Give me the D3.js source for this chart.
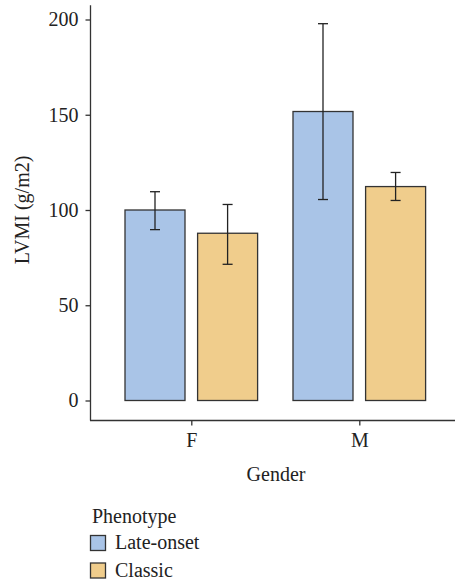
<!DOCTYPE html>
<html>
<head>
<meta charset="utf-8">
<script src="https://cdn.jsdelivr.net/npm/d3@7"></script>
<style>
  body { margin: 0; background: #fff; }
  svg text { font-family: "Liberation Serif", "DejaVu Serif", serif; fill: #222; }
</style>
</head>
<body>
<div id="chart"></div>
<script>
var genders = ["F", "M"];
var phenotypes = ["Late-onset", "Classic"];
var colors = ["#a9c4e7", "#f0cd8c"];
// mean, lower, upper per gender, per phenotype
var lateOnset = [100, 151.7];
var lateOnsetLo = [89.7, 105.5];
var lateOnsetHi = [109.6, 197.8];
var classic = [87.8, 112.3];
var classicLo = [71.5, 105];
var classicHi = [102.9, 119.7];
var yTicks = [0, 50, 100, 150, 200];

var w = 455;
var h = 586;
var fs = "20px";
var ff = "Liberation Serif";

var rows = [];
genders.forEach(function(g, i) {
    rows.push({gender: g, pos: i + 1, k: 0, mean: lateOnset[i], lo: lateOnsetLo[i], hi: lateOnsetHi[i]});
    rows.push({gender: g, pos: i + 1, k: 1, mean: classic[i], lo: classicLo[i], hi: classicHi[i]});
});

var xscale = d3.scaleLinear().domain([0.4, 2.6]).range([90.5, 460.1]);
var yscale = d3.scaleLinear().domain([0, 200]).range([400.5, 19.5]);
var yBottom = -10.5, yTop = 207.5;

var barW = 60 / 168;
var off = 36.3 / 168;

var svg = d3.select("#chart").append("svg")
    .attr("width", w)
    .attr("height", h);

// bars
svg.append("g").selectAll("rect")
    .data(rows)
    .enter()
    .append("rect")
    .attr("x", function(d) { return xscale(d.pos + (d.k ? off : -off) - barW / 2); })
    .attr("y", function(d) { return yscale(d.mean); })
    .attr("width", function(d) { return xscale(barW) - xscale(0); })
    .attr("height", function(d) { return yscale(0) - yscale(d.mean); })
    .attr("fill", function(d) { return colors[d.k]; })
    .attr("stroke", "#333")
    .attr("stroke-width", 1.3);

// error bars
var eb = svg.append("g").selectAll("g")
    .data(rows)
    .enter()
    .append("g")
    .attr("stroke", "#222")
    .attr("stroke-width", 1.3);

eb.append("line")
    .attr("x1", function(d) { return xscale(d.pos + (d.k ? off : -off)); })
    .attr("x2", function(d) { return xscale(d.pos + (d.k ? off : -off)); })
    .attr("y1", function(d) { return yscale(d.lo); })
    .attr("y2", function(d) { return yscale(d.hi); });

["lo", "hi"].forEach(function(key) {
    eb.append("line")
        .attr("x1", function(d) { return xscale(d.pos + (d.k ? off : -off)) - 5; })
        .attr("x2", function(d) { return xscale(d.pos + (d.k ? off : -off)) + 5; })
        .attr("y1", function(d) { return yscale(d[key]); })
        .attr("y2", function(d) { return yscale(d[key]); });
});

// axes
var yaxis = d3.axisLeft(yscale).tickValues(yTicks).tickSize(5).tickPadding(7);
var gy = svg.append("g")
    .attr("transform", "translate(90.5,0)")
    .attr("font-family", ff)
    .call(yaxis);
gy.select(".domain").remove();
gy.append("line")
    .attr("y1", yscale(yTop)).attr("y2", yscale(yBottom))
    .attr("stroke", "#333").attr("stroke-width", 1.3);
gy.selectAll(".tick line").attr("stroke", "#333").attr("stroke-width", 1.3);
gy.selectAll(".tick text")
    .attr("font-family", ff)
    .style("font-size", fs)
    .style("fill", "#222");

var xaxis = d3.axisBottom(xscale).tickValues([1, 2])
    .tickFormat(function(d) { return genders[d - 1]; })
    .tickSize(5).tickPadding(7);
var gx = svg.append("g")
    .attr("transform", "translate(0," + yscale(yBottom) + ")")
    .attr("font-family", ff)
    .call(xaxis);
gx.select(".domain").remove();
gx.append("line")
    .attr("x1", 90).attr("x2", w)
    .attr("stroke", "#333").attr("stroke-width", 1.3);
gx.selectAll(".tick line").attr("stroke", "#333").attr("stroke-width", 1.3);
gx.selectAll(".tick text")
    .attr("font-family", ff)
    .style("font-size", fs)
    .style("fill", "#222");

// axis titles
svg.append("text")
    .attr("transform", "translate(29,210) rotate(-90)")
    .attr("text-anchor", "middle")
    .style("font-size", fs)
    .text("LVMI (g/m2)");

svg.append("text")
    .attr("x", 276)
    .attr("y", 481)
    .attr("text-anchor", "middle")
    .style("font-size", fs)
    .text("Gender");

// legend
var legend = svg.append("g");
legend.append("text")
    .attr("x", 92)
    .attr("y", 523)
    .style("font-size", fs)
    .text("Phenotype");

var items = legend.selectAll("g.item")
    .data(phenotypes)
    .enter()
    .append("g")
    .attr("class", "item")
    .attr("transform", function(d, i) { return "translate(90," + (535 + i * 27.5) + ")"; });

items.append("rect")
    .attr("x", 0.5).attr("y", 0.5)
    .attr("width", 15).attr("height", 15)
    .attr("fill", function(d, i) { return colors[i]; })
    .attr("stroke", "#333")
    .attr("stroke-width", 1.3);

items.append("text")
    .attr("x", 25)
    .attr("y", 14)
    .style("font-size", fs)
    .text(function(d) { return d; });
</script>
</body>
</html>
